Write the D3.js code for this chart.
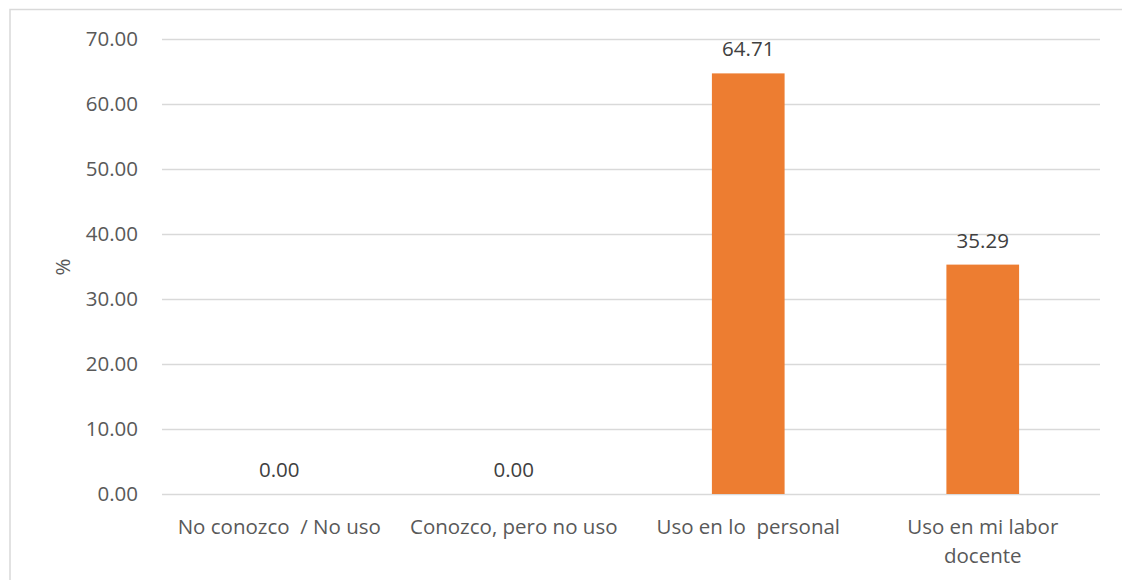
<!DOCTYPE html>
<html><head><meta charset="utf-8">
<script src="https://cdn.jsdelivr.net/npm/d3@7"></script>
<style>body{margin:0;background:#fff;} svg{display:block;}</style>
</head><body>
<svg id="c" width="1122" height="580"></svg>
<script>
const categories = [["No conozco  / No uso"], ["Conozco, pero no uso"], ["Uso en lo  personal"], ["Uso en mi labor", "docente"]];
const values = [0.00, 0.00, 64.71, 35.29];
const yTicks = [0, 10, 20, 30, 40, 50, 60, 70];
const yLabel = "%";

const svg = d3.select("#c");
const font = "'Open Sans', sans-serif";
const fs = 20.5;
const m = {left: 162, right: 1100, top: 39, bottom: 494};

svg.append("rect").attr("x", 10).attr("y", 9.5).attr("width", 1130).attr("height", 600)
  .attr("fill", "#fff").attr("stroke", "#d9d9d9").attr("stroke-width", 1.5);

const x = d3.scaleBand().domain(d3.range(categories.length)).range([m.left, m.right])
  .paddingInner(0.69).paddingOuter(0.345);
const y = d3.scaleLinear().domain([0, 70]).range([m.bottom, m.top]);

const yAxis = d3.axisLeft(y).tickValues(yTicks).tickSize(-(m.right - m.left)).tickPadding(24)
  .tickFormat(d3.format(".2f"));
const gy = svg.append("g").attr("transform", `translate(${m.left},0)`).call(yAxis);
gy.select(".domain").remove();
gy.selectAll(".tick line").attr("stroke", "#d9d9d9").attr("stroke-width", 1.5);
gy.selectAll(".tick text").attr("fill", "#595959").attr("font-family", font).attr("font-size", fs);

svg.append("text").attr("transform", `translate(62,267) rotate(-90)`).attr("text-anchor", "middle")
  .attr("dominant-baseline", "central").attr("fill", "#595959").attr("font-family", font)
  .attr("font-size", fs).text(yLabel);

svg.selectAll("rect.bar").data(values).enter().append("rect").attr("class", "bar")
  .attr("x", (d, i) => x(i)).attr("width", x.bandwidth())
  .attr("y", d => y(d)).attr("height", d => y(0) - y(d)).attr("fill", "#ed7d31");

svg.selectAll("text.val").data(values).enter().append("text").attr("class", "val")
  .attr("x", (d, i) => x(i) + x.bandwidth() / 2).attr("y", d => y(d) - 25)
  .attr("text-anchor", "middle").attr("dominant-baseline", "central")
  .attr("fill", "#404040").attr("font-family", font).attr("font-size", fs)
  .text(d => d3.format(".2f")(d));

categories.forEach((lines, i) => {
  lines.forEach((t, j) => {
    svg.append("text").attr("x", x(i) + x.bandwidth() / 2).attr("y", 526 + j * 29)
      .attr("text-anchor", "middle").attr("dominant-baseline", "central")
      .attr("fill", "#595959").attr("font-family", font).attr("font-size", fs)
      .attr("xml:space", "preserve").style("white-space", "pre").text(t);
  });
});
</script>
</body></html>
